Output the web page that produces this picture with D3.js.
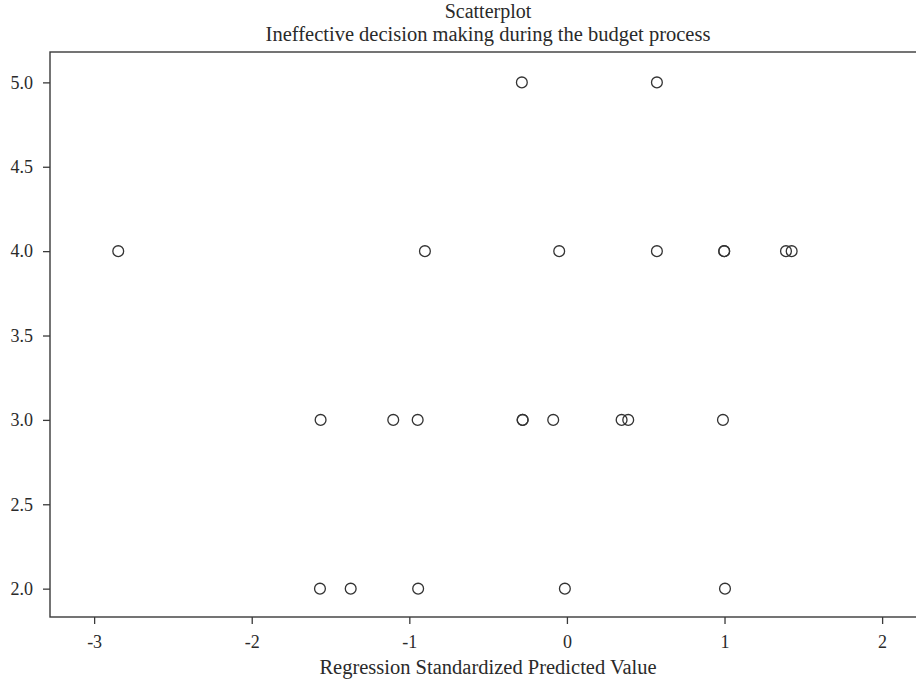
<!DOCTYPE html>
<html>
<head>
<meta charset="utf-8">
<script src="https://cdn.jsdelivr.net/npm/d3@7"></script>
<style>
  body { margin: 0; background: #fff; }
  text { font-family: "Liberation Serif", "DejaVu Serif", serif; fill: #2a2a2a; }
</style>
</head>
<body>
<svg id="chart" width="916" height="682"></svg>
<script>
// Standardized predicted value (x) against the observed rating (y)
const predicted = [
  -0.286, 0.571,
  -2.847, -0.901, -0.049, 0.571, 0.998, 0.998, 1.390, 1.426,
  -1.563, -1.102, -0.947, -0.281, -0.281, -0.087, 0.347, 0.389, 0.990,
  -1.567, -1.372, -0.944, -0.013, 1.003
];
const observed = [
  5, 5,
  4, 4, 4, 4, 4, 4, 4, 4,
  3, 3, 3, 3, 3, 3, 3, 3, 3,
  2, 2, 2, 2, 2
];
const xTicks = [-3, -2, -1, 0, 1, 2];
const yTicks = [2.0, 2.5, 3.0, 3.5, 4.0, 4.5, 5.0];
const titleLines = ["Scatterplot", "Ineffective decision making during the budget process"];
const xTitle = "Regression Standardized Predicted Value";

const svg = d3.select("#chart");
const W = 916, H = 682;
const margin = { left: 50, right: 0, top: 52, bottom: 65 };

const x = d3.scaleLinear().domain([-3.28, 2.215]).range([margin.left, W - margin.right]);
const y = d3.scaleLinear().domain([1.832, 5.18]).range([H - margin.bottom, margin.top]);

// Plot frame
svg.append("rect")
  .attr("x", margin.left).attr("y", margin.top)
  .attr("width", W - margin.right - margin.left + 2)
  .attr("height", H - margin.bottom - margin.top)
  .attr("fill", "none").attr("stroke", "#3a3a3a").attr("stroke-width", 1.4);

// Axes (plain hyphen for negative labels)
const xAxis = svg.append("g")
  .attr("transform", `translate(0,${H - margin.bottom})`)
  .call(d3.axisBottom(x).tickValues(xTicks).tickFormat(d => String(d)).tickSize(7).tickPadding(12));
const yAxis = svg.append("g")
  .attr("transform", `translate(${margin.left},0)`)
  .call(d3.axisLeft(y).tickValues(yTicks).tickFormat(d => d.toFixed(1)).tickSize(7).tickPadding(10));
[xAxis, yAxis].forEach(g => {
  g.select(".domain").remove();
  g.selectAll(".tick line").attr("stroke", "#3a3a3a").attr("stroke-width", 1.3);
  g.selectAll(".tick text").attr("font-size", 18).attr("font-family", null).style("fill", "#2a2a2a");
});
xAxis.selectAll(".tick text").attr("dy", "0.66em");

// Points
svg.append("g").selectAll("circle")
  .data(predicted.map((v, i) => ({ px: v, py: observed[i] })))
  .join("circle")
  .attr("cx", d => x(d.px))
  .attr("cy", d => y(d.py))
  .attr("r", 5.4)
  .attr("fill", "none")
  .attr("stroke", "#333")
  .attr("stroke-width", 1.3);

// Titles
const cx = 488;
svg.append("text").attr("x", cx).attr("y", 18).attr("text-anchor", "middle")
  .attr("font-size", 20).text(titleLines[0]);
svg.append("text").attr("x", cx).attr("y", 41).attr("text-anchor", "middle")
  .attr("font-size", 20.5).text(titleLines[1]);
svg.append("text").attr("x", cx).attr("y", 674).attr("text-anchor", "middle")
  .attr("font-size", 20.5).text(xTitle);
</script>
</body>
</html>
